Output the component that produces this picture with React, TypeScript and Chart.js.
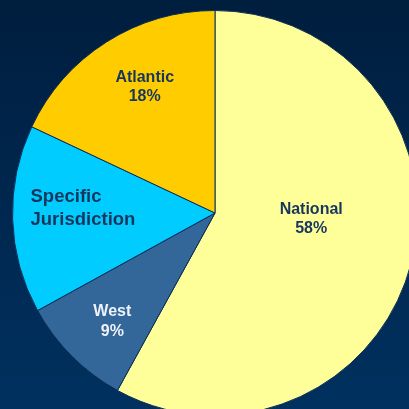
import React, { useEffect, useRef } from "react";
import { Chart, registerables } from "chart.js";

Chart.register(...registerables);

const categories = ["National", "West", "Specific Jurisdiction", "Atlantic"];
const shares = [58, 9, 15, 18];
const labelLines = [["National", "58%"], ["West", "9%"], ["Specific", "Jurisdiction"], ["Atlantic", "18%"]];
const sliceColors = ["#ffff99", "#336699", "#00ccff", "#ffcc00"];
const textColors = ["#17365d", "#eef2fa", "#17365d", "#17365d"];

// label anchor in units of pie radius relative to centre; [fx, fy, align, fontSize]
const labelPlace: [number, number, CanvasTextAlign, number][] = [
  [0.475, 0.029, "center", 16],
  [-0.507, 0.536, "center", 16],
  [-0.911, -0.023, "left", 18.5],
  [-0.347, -0.622, "center", 16],
];

const labelPlugin = {
  id: "sliceLabels",
  afterDatasetsDraw(chart: any) {
    const meta = chart.getDatasetMeta(0);
    const ctx = chart.ctx;
    meta.data.forEach((arc: any, i: number) => {
      const { x, y, outerRadius } = arc.getProps(["x", "y", "outerRadius"], true);
      const [fx, fy, align, size] = labelPlace[i];
      const lines = labelLines[i];
      const lh = size * 1.2;
      ctx.save();
      ctx.font = `bold ${size}px "Liberation Sans", Arial, sans-serif`;
      ctx.fillStyle = textColors[i];
      ctx.textAlign = align;
      ctx.textBaseline = "middle";
      const cx = x + fx * outerRadius;
      const cy = y + fy * outerRadius;
      lines.forEach((t, k) => {
        ctx.fillText(t, cx, cy + (k - (lines.length - 1) / 2) * lh);
      });
      ctx.restore();
    });
  },
};

export default function App() {
  const ref = useRef<HTMLCanvasElement>(null);
  useEffect(() => {
    if (!ref.current) return;
    const chart = new Chart(ref.current, {
      type: "pie",
      data: {
        labels: categories,
        datasets: [
          {
            data: shares,
            backgroundColor: sliceColors,
            borderColor: "#0d2e58",
            borderWidth: 1,
          },
        ],
      },
      options: {
        responsive: false,
        animation: false,
        rotation: 0,
        layout: { padding: 0 },
        plugins: {
          legend: { display: false },
          tooltip: { enabled: false },
        },
      },
      plugins: [labelPlugin],
    });
    return () => chart.destroy();
  }, []);

  return (
    <div
      style={{
        position: "fixed",
        left: 0,
        top: 0,
        width: 409,
        height: 409,
        overflow: "hidden",
        background: "linear-gradient(to bottom, #001e3e 0%, #00274f 50%, #00315f 100%)",
      }}
    >
      <canvas
        ref={ref}
        width={406}
        height={406}
        style={{ position: "absolute", left: 12, top: 10, width: 406, height: 406 }}
      />
    </div>
  );
}
